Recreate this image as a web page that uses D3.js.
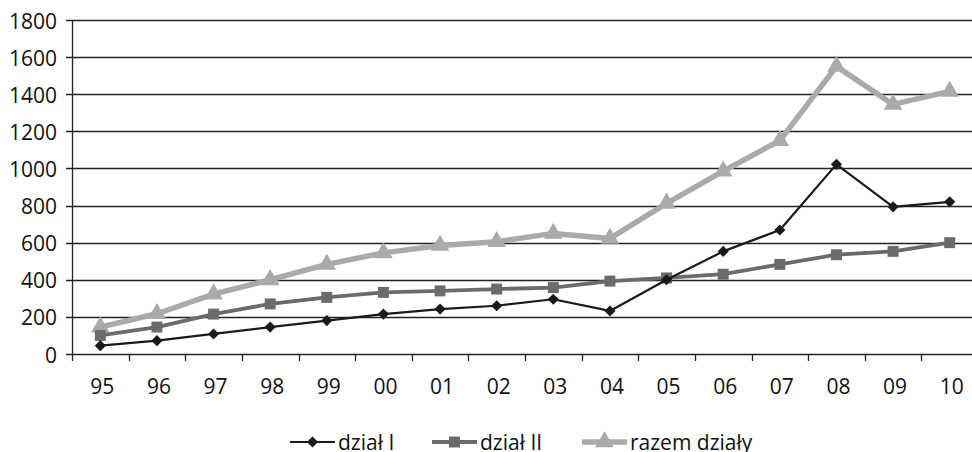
<!DOCTYPE html>
<html>
<head>
<meta charset="utf-8">
<script src="https://cdn.jsdelivr.net/npm/d3@7"></script>
<style>
  body { margin: 0; background: #fff; overflow: hidden; }
  text { font-family: "Open Sans", "Noto Sans", sans-serif; fill: #111; }
</style>
</head>
<body>
<div id="chart"></div>
<script>
// categories (years)
const years = ["95", "96", "97", "98", "99", "00", "01", "02", "03", "04", "05", "06", "07", "08", "09", "10"];

// series values
const dzialI = [45, 72, 108, 145, 180, 215, 242, 260, 295, 232, 400, 553, 668, 1022, 793, 820];
const dzialII = [100, 145, 215, 270, 305, 332, 340, 350, 358, 393, 410, 430, 483, 535, 553, 600];
const razem = [145, 217, 323, 400, 483, 545, 585, 605, 650, 623, 812, 985, 1150, 1550, 1345, 1415];

// y tick labels
const yTicks = [0, 200, 400, 600, 800, 1000, 1200, 1400, 1600, 1800];

const width = 972, height = 452;
// plot runs a little past the right edge, as in the original
const plotLeft = 72, plotRight = 978, plotTop = 20, plotBottom = 354;
const fontSize = '21px';

const svg = d3.select('#chart').append('svg')
    .attr('width', width)
    .attr('height', height);

const x = d3.scaleBand()
    .domain(years)
    .range([plotLeft, plotRight]);

const y = d3.scaleLinear()
    .domain([0, 1800])
    .range([plotBottom, plotTop]);

// gridlines
svg.append('g')
    .selectAll('line')
    .data(yTicks)
    .enter()
    .append('line')
    .attr('x1', plotLeft - 6)
    .attr('x2', plotRight)
    .attr('y1', d => Math.round(y(d)) + 0.5)
    .attr('y2', d => Math.round(y(d)) + 0.5)
    .attr('stroke', '#222')
    .attr('stroke-width', 1.3);

// y axis line
svg.append('line')
    .attr('x1', plotLeft + 0.5)
    .attr('x2', plotLeft + 0.5)
    .attr('y1', Math.round(y(1800)))
    .attr('y2', Math.round(y(0)) + 1)
    .attr('stroke', '#222')
    .attr('stroke-width', 1.3);

// y labels
svg.append('g')
    .selectAll('text')
    .data(yTicks)
    .enter()
    .append('text')
    .attr('x', plotLeft - 15)
    .attr('y', d => y(d) + 1)
    .attr('dy', '0.36em')
    .style('text-anchor', 'end')
    .style('font-size', fontSize)
    .text(d => d);

// x ticks between categories
const xTickPos = years.map(d => x(d));
svg.append('g')
    .selectAll('line')
    .data(xTickPos)
    .enter()
    .append('line')
    .attr('x1', d => Math.round(d) + 0.5)
    .attr('x2', d => Math.round(d) + 0.5)
    .attr('y1', y(0))
    .attr('y2', y(0) + 7)
    .attr('stroke', '#222')
    .attr('stroke-width', 1.3);

// x labels
svg.append('g')
    .selectAll('text')
    .data(years)
    .enter()
    .append('text')
    .attr('x', d => x(d) + x.bandwidth() / 2 + 2)
    .attr('y', y(0) + 32)
    .attr('dy', '0.36em')
    .style('text-anchor', 'middle')
    .style('font-size', fontSize)
    .text(d => d);

// diamond = square turned 45 degrees
const series = [
    { name: 'dział I', values: dzialI, color: '#1a1a1a', width: 2.2, symbol: d3.symbolSquare, size: 62, rotate: 45 },
    { name: 'dział II', values: dzialII, color: '#6b6b6b', width: 3.8, symbol: d3.symbolSquare, size: 120, rotate: 0 },
    { name: 'razem działy', values: razem, color: '#aaaaaa', width: 5.5, symbol: d3.symbolTriangle, size: 150, rotate: 0 }
];

const line = d3.line()
    .x((d, i) => x(years[i]) + x.bandwidth() / 2)
    .y(d => y(d));

// draw lines and markers, total on bottom
series.slice().reverse().forEach(s => {
    svg.append('path')
        .datum(s.values)
        .attr('fill', 'none')
        .attr('stroke', s.color)
        .attr('stroke-width', s.width)
        .attr('stroke-linejoin', 'round')
        .attr('d', line);

    svg.append('g')
        .selectAll('path')
        .data(s.values)
        .enter()
        .append('path')
        .attr('transform', (d, i) => `translate(${x(years[i]) + x.bandwidth() / 2}, ${y(d)}) rotate(${s.rotate})`)
        .attr('d', d3.symbol().type(s.symbol).size(s.size))
        .attr('fill', s.color);
});

// legend
const legendX = [290, 432, 582];
const legendY = 442;
const legend = svg.selectAll('.legend')
    .data(series)
    .enter()
    .append('g')
    .attr('class', 'legend')
    .attr('transform', (d, i) => `translate(${legendX[i]}, ${legendY})`);

legend.append('line')
    .attr('x1', 0)
    .attr('x2', 45)
    .attr('stroke', d => d.color)
    .attr('stroke-width', d => d.width);

legend.append('path')
    .attr('transform', d => `translate(22.5, 0) rotate(${d.rotate})`)
    .attr('d', d => d3.symbol().type(d.symbol).size(d.size)())
    .attr('fill', d => d.color);

legend.append('text')
    .attr('x', 48)
    .attr('y', 0)
    .attr('dy', '0.36em')
    .style('font-size', fontSize)
    .text(d => d.name);
</script>
</body>
</html>
